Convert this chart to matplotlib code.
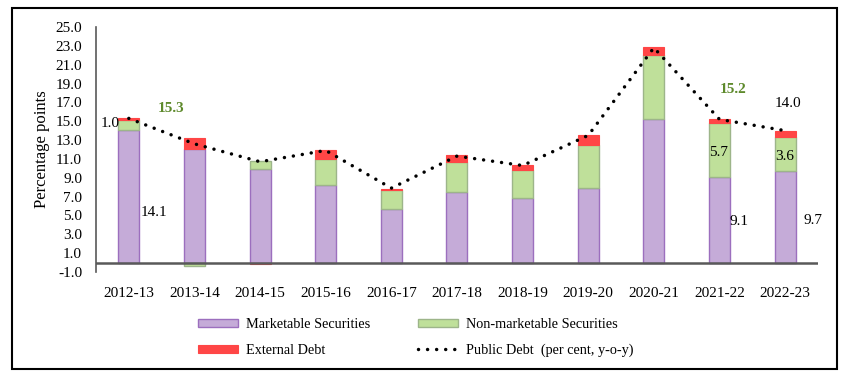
import numpy as np
import matplotlib
matplotlib.use("Agg")
import matplotlib.pyplot as plt
from matplotlib.patches import Rectangle

plt.rcParams['font.family'] = ['Liberation Serif', 'DejaVu Serif']

# data
years = ['2012-13', '2013-14', '2014-15', '2015-16', '2016-17', '2017-18',
         '2018-19', '2019-20', '2020-21', '2021-22', '2022-23']
marketable = [14.1, 12.0, 9.9, 8.2, 5.7, 7.5, 6.8, 7.9, 15.2, 9.1, 9.7]
non_marketable = [1.0, -0.4, 0.9, 2.8, 2.0, 3.2, 3.0, 4.6, 6.8, 5.7, 3.6]
external = [0.2, 1.2, -0.2, 0.9, 0.1, 0.7, 0.6, 1.0, 0.9, 0.4, 0.7]
public_debt = [15.3, 12.6, 10.7, 11.9, 7.9, 11.3, 10.3, 13.5, 22.8, 15.2, 14.0]
yticks = np.arange(-1.0, 25.1, 2.0)

fig = plt.figure(figsize=(8.45, 3.73), dpi=100)
ax = fig.add_axes([0.1136, 0.2708, 0.8544, 0.6568])

x = np.arange(len(years))
mkt = np.array(marketable)
nmk = np.array(non_marketable)
ext = np.array(external)

# stack positives upward and negatives downward
pos_base = np.zeros(len(x))
neg_base = np.zeros(len(x))

def stack(vals):
    bottoms = np.where(vals >= 0, pos_base, neg_base)
    pos_base[:] += np.where(vals >= 0, vals, 0)
    neg_base[:] += np.where(vals < 0, vals, 0)
    return bottoms

w = 0.32
b1 = ax.bar(x, mkt, w, bottom=stack(mkt), color='#C5ABD8', edgecolor='#9C6FBE',
            linewidth=1, label='Marketable Securities', zorder=2)
b2 = ax.bar(x, nmk, w, bottom=stack(nmk), color='#BFE09A', edgecolor='#9DB58A',
            linewidth=1, label='Non-marketable Securities', zorder=2)
b3 = ax.bar(x, ext, w, bottom=stack(ext), color='#FF4646', edgecolor='#FF4646',
            linewidth=0.8, label='External Debt', zorder=2)
ln, = ax.plot(x, public_debt, color='black', linestyle=(0, (0.01, 2.6)), linewidth=2.5,
              dash_capstyle='round', label='Public Debt  (per cent, y-o-y)', zorder=3)

ax.axhline(0, color='#595959', linewidth=1.8, zorder=4)
ax.set_xlim(-0.5, len(x) - 0.5)
ax.set_ylim(-1, 25)
ax.set_yticks(yticks)
ax.set_yticklabels(['%.1f' % v for v in yticks])
ax.set_xticks(x)
ax.set_xticklabels(years)
ax.tick_params(axis='y', length=0, pad=10, labelsize=11)
ax.tick_params(axis='x', length=0, pad=11, labelsize=11)
for s in ['top', 'right', 'bottom']:
    ax.spines[s].set_visible(False)
ax.spines['left'].set_color('#595959')
ax.spines['left'].set_linewidth(1.2)
ax.set_ylabel('Percentage points', fontsize=12, labelpad=4)

# data labels
green = '#5E8A2C'
ax.text(0.65, 16.3, '15.3', color=green, fontsize=11, fontweight='bold', ha='center', va='center')
ax.text(-0.28, 14.8, '1.0', fontsize=11, ha='center', va='center')
ax.text(0.38, 5.3, '14.1', fontsize=11, ha='center', va='center')
ax.text(9.2, 18.4, '15.2', color=green, fontsize=11, fontweight='bold', ha='center', va='center')
ax.text(10.05, 16.9, '14.0', fontsize=11, ha='center', va='center')
ax.text(8.99, 11.7, '5.7', fontsize=11, ha='center', va='center')
ax.text(9.99, 11.3, '3.6', fontsize=11, ha='center', va='center')
ax.text(9.3, 4.4, '9.1', fontsize=11, ha='center', va='center')
ax.text(10.42, 4.5, '9.7', fontsize=11, ha='center', va='center')

# legend filled column by column
handles = [b1, b3, b2, ln]
labels = [hh.get_label() for hh in handles]
fig.legend(handles, labels, ncol=2, loc='upper center', bbox_to_anchor=(0.492, 0.167),
           frameon=False, fontsize=10.3, handlelength=2.8, handleheight=0.5,
           handletextpad=0.55, columnspacing=3.4, labelspacing=0.9, borderpad=0)

# outer border
fig.patches.append(Rectangle((12 / 845, 4 / 373), 825 / 845, 361 / 373,
                             transform=fig.transFigure, fill=False,
                             edgecolor='black', linewidth=1.5))

fig.savefig('out.png', dpi=100)
